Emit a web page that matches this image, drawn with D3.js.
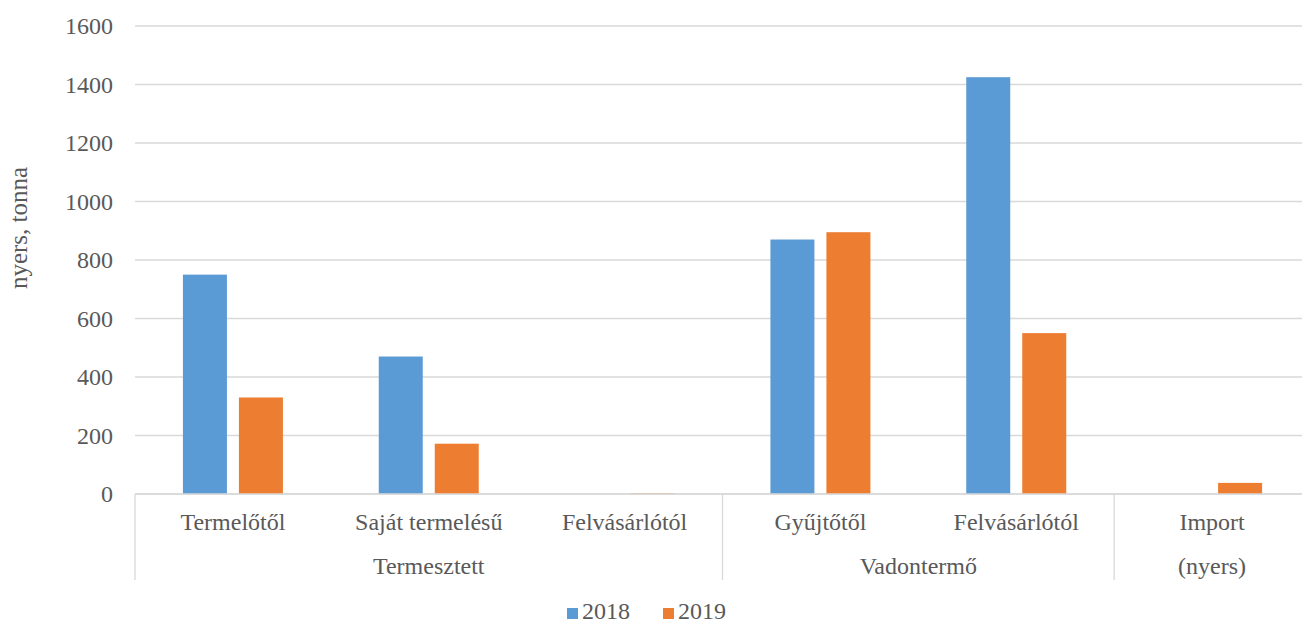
<!DOCTYPE html>
<html><head><meta charset="utf-8">
<script src="https://cdn.jsdelivr.net/npm/d3@7"></script>
<style>body{margin:0;background:#fff}svg{display:block}</style>
</head><body><svg id="c" width="1302" height="624" font-family="Liberation Serif"></svg>
<script>
const categories = ["Termelőtől","Saját termelésű","Felvásárlótól","Gyűjtőtől","Felvásárlótól","Import"];
const groups = [{name:"Termesztett", span:3},{name:"Vadontermő", span:2},{name:"(nyers)", span:1}];
const seriesNames = ["2018","2019"];
const values2018 = [750, 470, 0, 870, 1425, 0];
const values2019 = [330, 172, 2, 895, 550, 38];
const yTicks = [0,200,400,600,800,1000,1200,1400,1600];
const colors = ["#5B9BD5","#ED7D31"];

(function(){
const svg = d3.select("#c");
const txt = "#595959", fs = 24;
const pLeft = 135, pRight = 1310, pTop = 26, pBottom = 494;
const idx = d3.range(categories.length);
const x = d3.scaleBand().domain(idx).range([pLeft, pRight]);
const y = d3.scaleLinear().domain([0,1600]).range([pBottom, pTop]);
const barW = 44, gap = 12;

svg.append("g").selectAll("line").data(yTicks).join("line")
  .attr("x1", pLeft).attr("x2", pRight)
  .attr("y1", d=>y(d)).attr("y2", d=>y(d))
  .attr("stroke", "#D9D9D9").attr("stroke-width", 1.3);

svg.append("g").selectAll("text").data(yTicks).join("text")
  .attr("x", 113).attr("y", d=>y(d)).attr("dy","0.34em")
  .attr("text-anchor","end").attr("font-size",fs).attr("fill",txt).text(d=>d);

svg.append("text").attr("transform","translate(27,228) rotate(-90)")
  .attr("text-anchor","middle").attr("font-size",25).attr("fill",txt).text("nyers, tonna");

const series = [values2018, values2019];
series.forEach((vals, s) => {
  svg.append("g").selectAll("rect").data(idx).join("rect")
    .attr("x", i => x(i) + x.bandwidth()/2 + (s===0 ? -(barW + gap/2) : gap/2))
    .attr("width", barW)
    .attr("y", i => y(vals[i]))
    .attr("height", i => y(0) - y(vals[i]))
    .attr("fill", colors[s]);
});

svg.append("g").selectAll("text").data(idx).join("text")
  .attr("x", i => x(i) + x.bandwidth()/2).attr("y", 530)
  .attr("text-anchor","middle").attr("font-size",fs).attr("fill",txt).text(i=>categories[i]);

let start = 0;
const sepX = [pLeft];
groups.forEach(g => {
  const x0 = x(start), x1 = x(start + g.span - 1) + x.bandwidth();
  svg.append("text").attr("x",(x0+x1)/2).attr("y",574)
    .attr("text-anchor","middle").attr("font-size",fs).attr("fill",txt).text(g.name);
  start += g.span;
  sepX.push(x1);
});
svg.append("g").selectAll("line").data(sepX).join("line")
  .attr("x1",d=>d).attr("x2",d=>d).attr("y1",pBottom).attr("y2",580)
  .attr("stroke","#D9D9D9").attr("stroke-width",1.3);
svg.append("line").attr("x1",pLeft).attr("x2",pRight).attr("y1",pBottom).attr("y2",pBottom)
  .attr("stroke","#D9D9D9").attr("stroke-width",1.3);

const legX = [567, 663];
seriesNames.forEach((n,s) => {
  svg.append("rect").attr("x",legX[s]).attr("y",608).attr("width",11).attr("height",11).attr("fill",colors[s]);
  svg.append("text").attr("x",legX[s]+15).attr("y",619).attr("font-size",fs).attr("fill",txt).text(n);
});
})();
</script></body></html>
